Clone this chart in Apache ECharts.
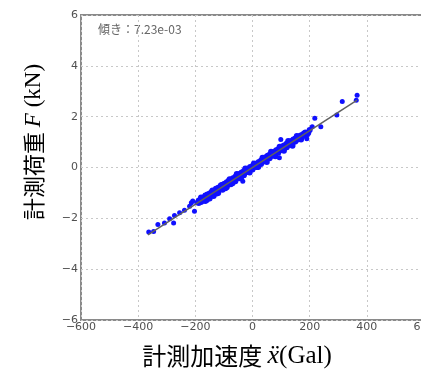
<!DOCTYPE html>
<html>
<head>
<meta charset="utf-8">
<script src="https://cdn.jsdelivr.net/npm/echarts@6/dist/echarts.min.js"></script>
<style>
html,body{margin:0;padding:0;background:#fff;}
#main{width:421px;height:370px;}
</style>
</head>
<body>
<div id="main"></div>
<script>
// 軸目盛
var xTicks = [-600, -400, -200, 0, 200, 400, 600];
var yTicks = [-6, -4, -2, 0, 2, 4, 6];
var slopeText = '傾き：7.23e-03';

// 計測点 [加速度 Gal, 荷重 kN]
var outlierPoints = [
    [-363, -2.54], [-346, -2.52], [-331, -2.24], [-308, -2.18], [-290, -2.02],
    [-276, -2.18], [-273, -1.89], [-255, -1.78], [-238, -1.68], [-220, -1.52],
    [-214, -1.39], [-209, -1.32], [-203, -1.72], [-195, -1.39],
    [-34, -0.54], [94, 0.38], [99, 1.10], [158, 1.20], [178, 1.23], [190, 1.13],
    [209, 1.60], [218, 1.94], [239, 1.60], [295, 2.07], [314, 2.60], [363, 2.65], [366, 2.84]
];
var clusterPoints = [
    [-188, -1.30], [-188, -1.40], [-180, -1.22], [-180, -1.36], [-180, -1.28],
    [-172, -1.18], [-172, -1.30], [-165, -1.10], [-165, -1.25], [-165, -1.32],
    [-158, -1.06], [-158, -1.20], [-150, -1.02], [-150, -1.14], [-150, -1.22],
    [-143, -0.96], [-143, -1.10], [-136, -0.92], [-136, -1.04], [-136, -1.12],
    [-128, -0.84], [-128, -0.98], [-120, -0.80], [-120, -0.92], [-120, -1.00],
    [-112, -0.74], [-112, -0.86], [-105, -0.68], [-105, -0.80], [-105, -0.88],
    [-98, -0.64], [-98, -0.76], [-90, -0.58], [-90, -0.70], [-90, -0.78],
    [-83, -0.52], [-83, -0.64], [-76, -0.48], [-76, -0.58], [-76, -0.66],
    [-68, -0.42], [-68, -0.52], [-60, -0.36], [-60, -0.46], [-60, -0.54],
    [-53, -0.30], [-53, -0.42], [-46, -0.26], [-46, -0.36], [-46, -0.42],
    [-38, -0.20], [-38, -0.32], [-30, -0.14], [-30, -0.24], [-30, -0.30],
    [-22, -0.08], [-22, -0.18], [-15, -0.04], [-15, -0.12], [-15, -0.18],
    [-8, 0.02], [-8, -0.08], [0, 0.06], [0, -0.02], [0, -0.08],
    [8, 0.12], [8, 0.02], [15, 0.16], [15, 0.08], [15, 0.02],
    [22, 0.22], [22, 0.12], [30, 0.28], [30, 0.20], [30, 0.14],
    [38, 0.34], [38, 0.24], [46, 0.40], [46, 0.30], [46, 0.26],
    [53, 0.46], [53, 0.36], [60, 0.50], [60, 0.42], [60, 0.36],
    [68, 0.56], [68, 0.46], [76, 0.62], [76, 0.54], [76, 0.48],
    [83, 0.68], [83, 0.58], [90, 0.72], [90, 0.64], [90, 0.58],
    [98, 0.78], [98, 0.68], [105, 0.84], [105, 0.74], [105, 0.70],
    [112, 0.88], [112, 0.78], [120, 0.94], [120, 0.86], [120, 0.80],
    [128, 1.00], [128, 0.90], [136, 1.04], [136, 0.96], [136, 0.92],
    [143, 1.10], [143, 1.00], [150, 1.14], [150, 1.06], [150, 1.02],
    [158, 1.10], [165, 1.24], [165, 1.16], [172, 1.28], [172, 1.22],
    [180, 1.34], [180, 1.26],
    [-180, -1.18], [-160, -1.28], [-140, -0.90], [-125, -1.02], [-110, -0.70],
    [-95, -0.82], [-80, -0.46], [-70, -0.62], [-55, -0.26], [-40, -0.40],
    [-25, -0.04], [-10, -0.20], [5, 0.16], [20, 0.02], [35, 0.38],
    [50, 0.22], [65, 0.62], [80, 0.44], [95, 0.82], [110, 0.66],
    [125, 1.04], [140, 0.86], [155, 1.24], [170, 1.10], [185, 1.38],
    [190, 1.30], [195, 1.36], [200, 1.48]
];
// 回帰直線
var fitLine = [[-366, -2.65], [366, 2.65]];

var chart = echarts.init(document.getElementById('main'));
var tickFont = {color: '#505050', fontSize: 11, fontFamily: 'DejaVu Sans'};
var minus = function (v) { return String(v).replace('-', '\u2212'); };

var option = {
    animation: false,
    grid: {
        left: 81, top: 15, width: 343, height: 305,
        outerBoundsMode: 'none', containLabel: false,
        show: true, borderColor: '#8a8a8a', borderWidth: 2
    },
    xAxis: {
        type: 'value', min: xTicks[0], max: xTicks[xTicks.length - 1], interval: 200,
        axisLine: {show: false},
        axisTick: {show: false},
        axisLabel: Object.assign({formatter: minus, margin: 2, showMaxLabel: true}, tickFont),
        splitLine: {lineStyle: {color: '#c8c8c8', type: [2, 3]}}
    },
    yAxis: {
        type: 'value', min: yTicks[0], max: yTicks[yTicks.length - 1], interval: 2,
        axisLine: {show: false},
        axisTick: {show: false},
        axisLabel: Object.assign({formatter: minus, margin: 3}, tickFont),
        splitLine: {lineStyle: {color: '#c8c8c8', type: [2, 3]}}
    },
    series: [
        {
            type: 'scatter', data: clusterPoints, symbolSize: 6,
            itemStyle: {color: '#1010ff', opacity: 1}
        },
        {
            type: 'scatter', data: outlierPoints, symbolSize: 5,
            itemStyle: {color: '#1010ff', opacity: 1}
        },
        {
            type: 'line', data: fitLine, symbol: 'none', z: 5,
            lineStyle: {color: '#606060', width: 1.5}
        }
    ],
    graphic: [
        {
            type: 'text', left: 98, top: 23,
            style: {text: slopeText, fill: '#666', font: '12px "Noto Sans CJK JP"'}
        },
        {
            type: 'text', x: 237, y: 356,
            style: {
                text: '{j|計測加速度 }{i|ẍ}{s|(Gal)}',
                align: 'center', verticalAlign: 'middle',
                rich: {
                    j: {fontSize: 24, fontFamily: 'Noto Sans CJK JP', fill: '#000'},
                    i: {fontSize: 26, fontFamily: 'Liberation Serif', fontStyle: 'italic', fill: '#000'},
                    s: {fontSize: 25, fontFamily: 'Liberation Serif', fill: '#000'}
                }
            }
        },
        {
            type: 'text', x: 34, y: 142, rotation: Math.PI / 2,
            style: {
                text: '{j|計測荷重 }{i|F}{s| (kN)}',
                align: 'center', verticalAlign: 'middle',
                rich: {
                    j: {fontSize: 22, fontFamily: 'Noto Sans CJK JP', fill: '#000'},
                    i: {fontSize: 23, fontFamily: 'Liberation Serif', fontStyle: 'italic', fill: '#000'},
                    s: {fontSize: 23, fontFamily: 'Liberation Serif', fill: '#000'}
                }
            }
        }
    ]
};
chart.setOption(option);
</script>
</body>
</html>
